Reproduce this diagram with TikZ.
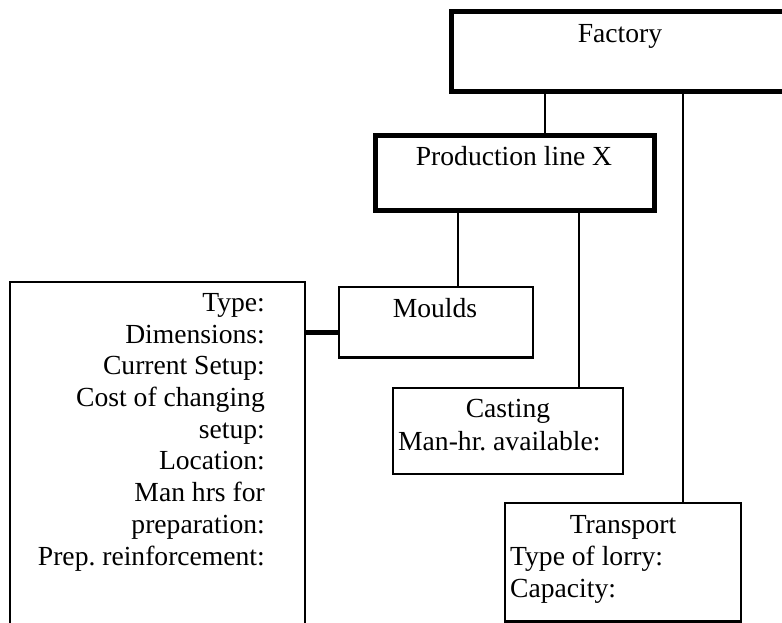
\documentclass[tikz,border=0pt]{standalone}
\usepackage{fontspec}
\setmainfont{Liberation Serif}
\frenchspacing
\begin{document}
\begin{tikzpicture}[x=1pt,y=-1pt,
  thickbox/.style={draw=black,line width=5pt},
  thinbox/.style={draw=black,line width=2.4pt},
  link/.style={draw=black,line width=2.2pt},
  heavylink/.style={draw=black,line width=5pt},
  txt/.style={inner sep=0pt,font=\fontsize{27.6}{31.7}\selectfont}]
\useasboundingbox (0,0) rectangle (782,623);
\clip (0,0) rectangle (782,623);

% boxes
\path[thickbox] (451,12) rectangle (795,91.5);
\path[thickbox] (375.5,135.5) rectangle (654.5,210.5);
\path[thinbox] (339,287) rectangle (533,357.5);
\path[thinbox] (393,388) rectangle (623,474);
\path[thinbox] (505,503) rectangle (741,621.5);
\path[thinbox] (10,282) rectangle (305,640);

% anchor nodes for the boxes
\node[inner sep=0pt,minimum width=344pt,minimum height=79.5pt] (factory) at (623,51.75) {};
\node[inner sep=0pt,minimum width=279pt,minimum height=75pt] (prod) at (515,173) {};
\node[inner sep=0pt,minimum width=194pt,minimum height=70.5pt] (moulds) at (436,322.25) {};
\node[inner sep=0pt,minimum width=230pt,minimum height=86pt] (casting) at (508,431) {};
\node[inner sep=0pt,minimum width=236pt,minimum height=118.5pt] (transport) at (623,562.25) {};
\node[inner sep=0pt,minimum width=295pt,minimum height=358pt] (props) at (157.5,461) {};

% connector columns
\coordinate (c1) at (545,0);
\coordinate (c2) at (683,0);
\coordinate (c3) at (458,0);
\coordinate (c4) at (579,0);
\coordinate (r1) at (0,332);

\draw[link] (factory.south -| c1) -- (prod.north -| c1);
\draw[link] (factory.south -| c2) -- (transport.north -| c2);
\draw[link] (prod.south -| c3) -- (moulds.north -| c3);
\draw[link] (prod.south -| c4) -- (casting.north -| c4);
\draw[heavylink] (props.east |- r1) -- (moulds.west |- r1);

% labels
\node[txt,anchor=base] (tfactory) at (620,43) {Factory};
\node[txt,anchor=base] (tprod) at (514,166) {Production line X};
\node[txt,anchor=base] (tmoulds) at (435,317) {Moulds};
\node[txt,anchor=base] (tcasting) at (508,417) {Casting};
\node[txt,anchor=base west] (tmanhr) at (398,450) {Man-hr. available:};
\node[txt,anchor=base] (ttransport) at (623,533) {Transport};
\node[txt,anchor=base west] (tlorry) at (510,565) {Type of lorry:};
\node[txt,anchor=base west] (tcap) at (510,597) {Capacity:};
\node[txt,anchor=base east,align=right] (tprops) at (265,565)
  {Type:\\Dimensions:\\Current Setup:\\Cost of changing\\setup:\\Location:\\Man hrs for\\preparation:\\Prep. reinforcement:};
\end{tikzpicture}
\end{document}
